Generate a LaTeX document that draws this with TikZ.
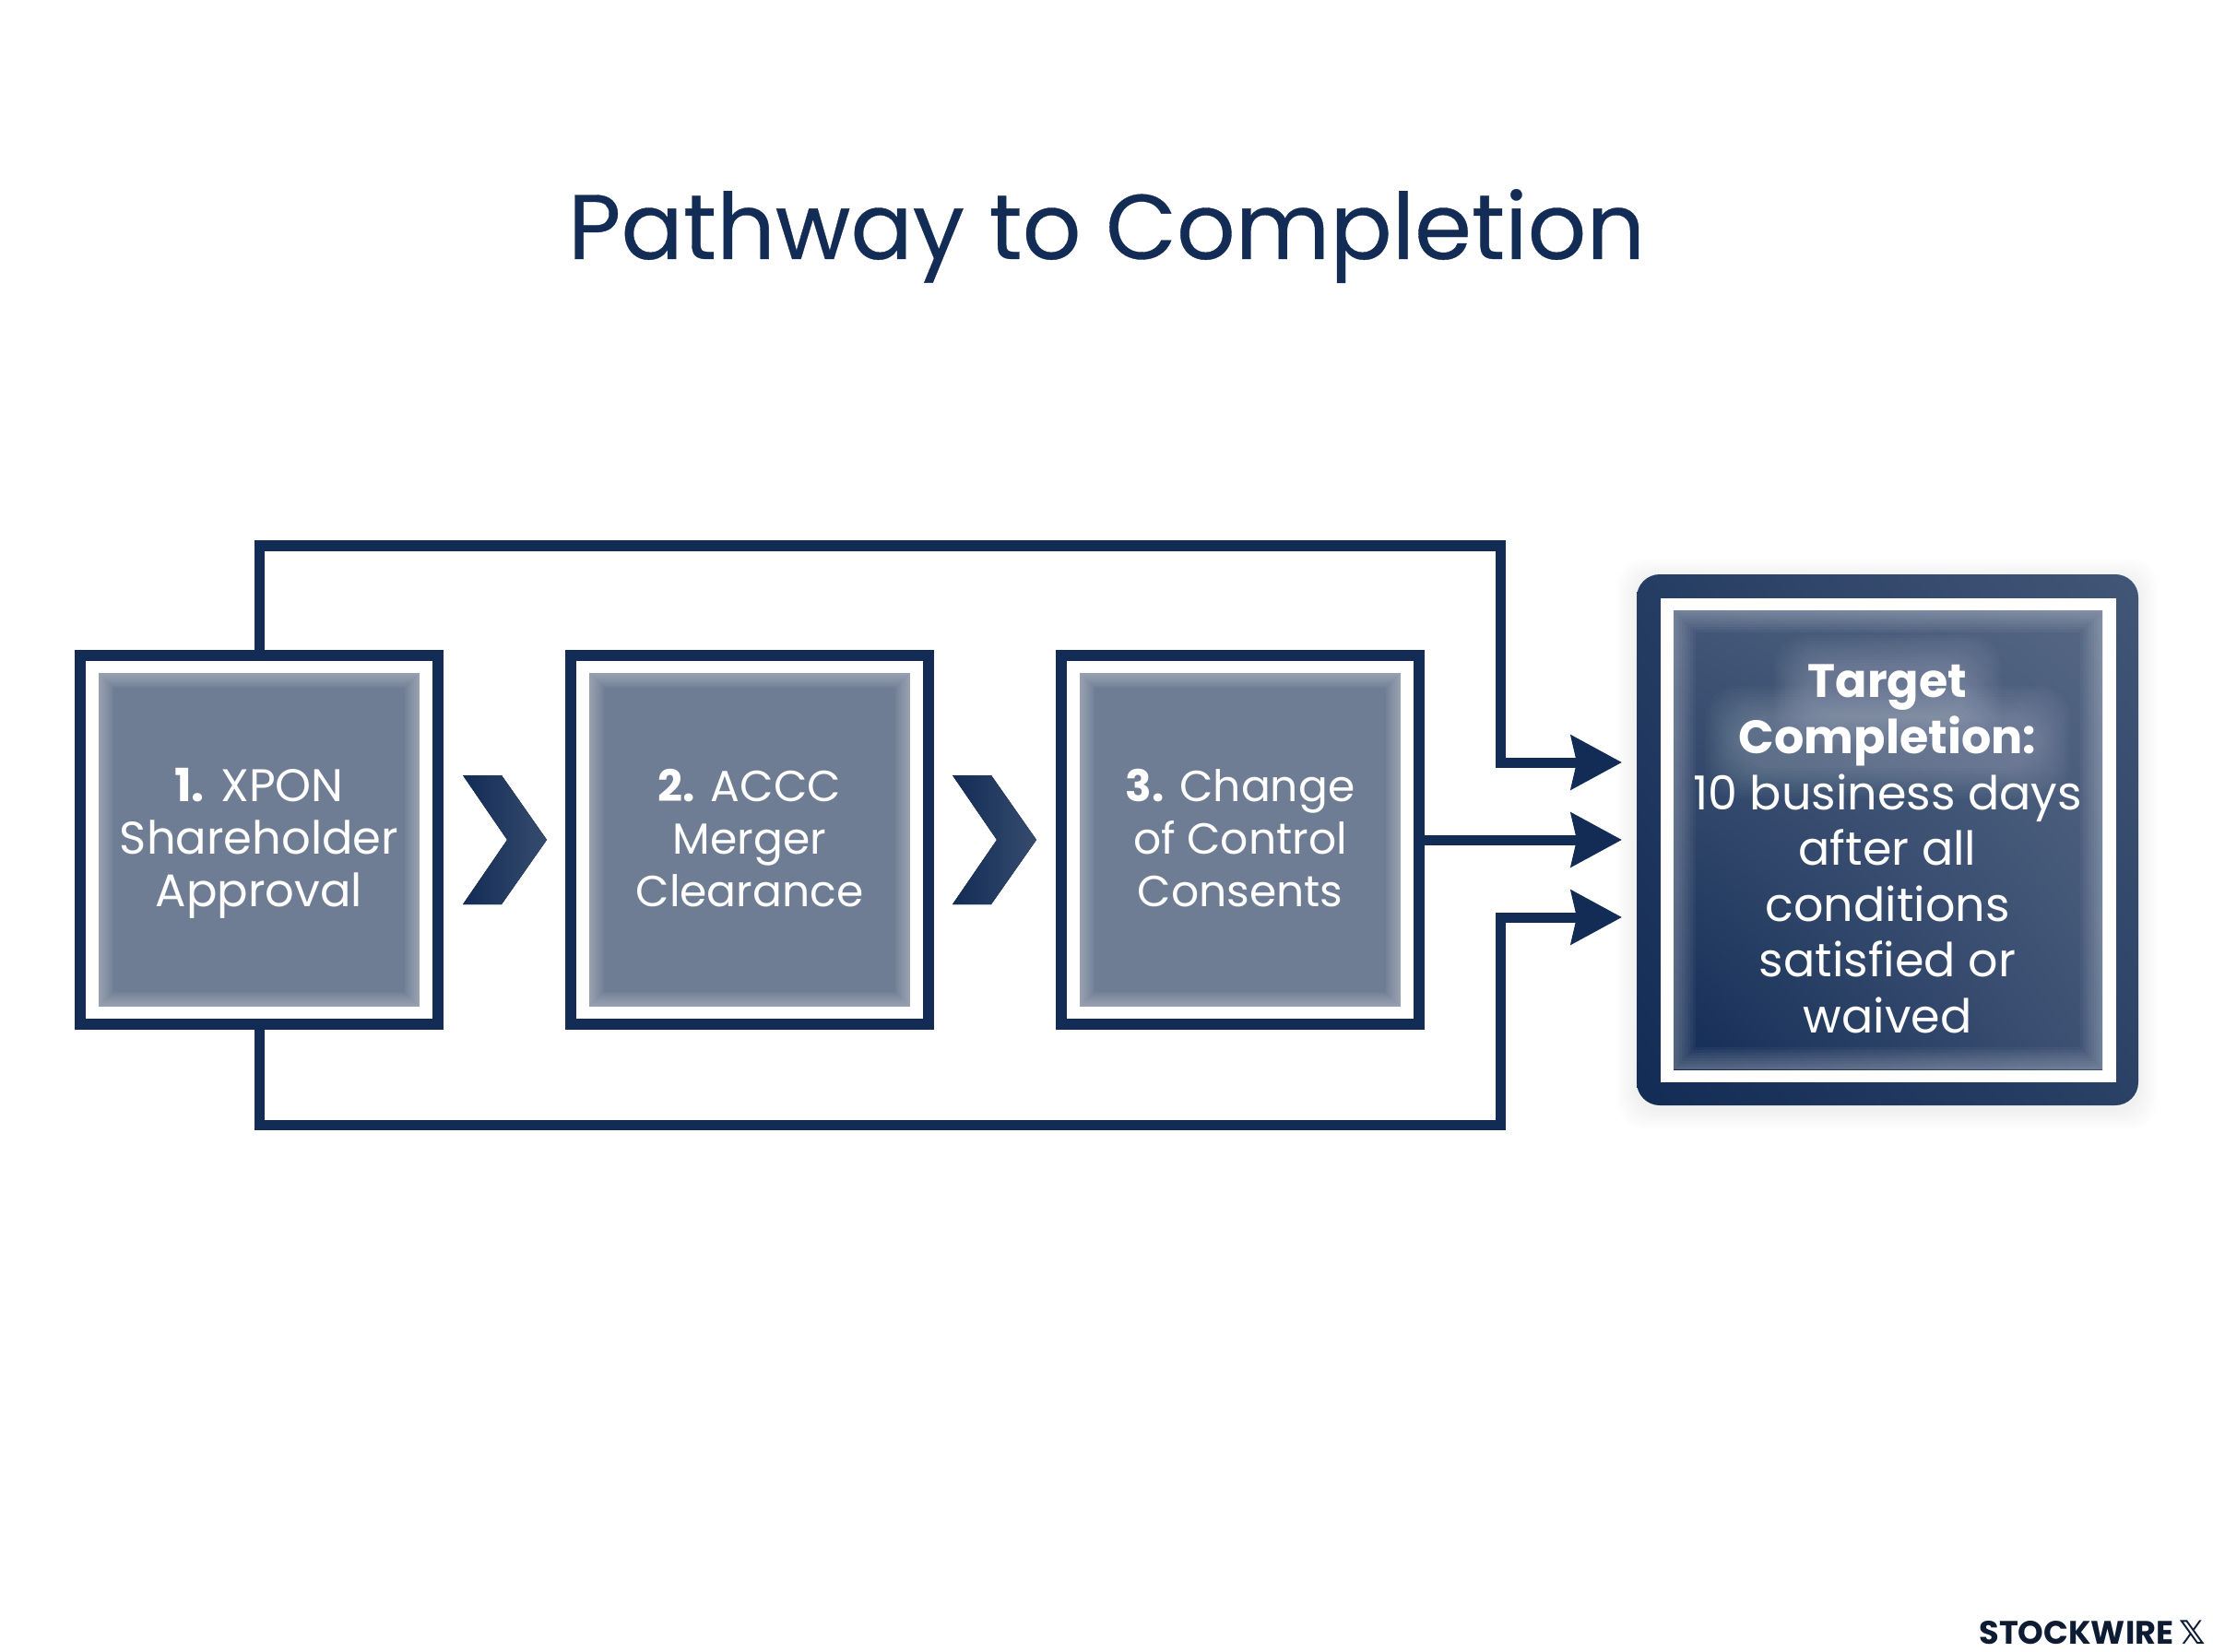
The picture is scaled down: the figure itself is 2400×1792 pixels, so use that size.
\documentclass[tikz,border=0pt]{standalone}
\usepackage{fontspec}
\setmainfont{Poppins}
\newfontfamily\titlefont[FakeBold=0.35]{Poppins}
\newfontfamily\markfont{DejaVu Sans}
\usetikzlibrary{arrows.meta,shadings}
\definecolor{navy}{HTML}{132C55}
\definecolor{softfill}{HTML}{6F7D94}
\definecolor{inkdark}{HTML}{0D1B33}
\tikzset{
  framebox/.style={draw=navy,line width=6pt,fill=white,minimum width=194pt,minimum height=200pt,inner sep=0pt},
  conn/.style={draw=navy,line width=5.5pt,-{Stealth[length=27.5pt,width=29pt,inset=3pt]}},
  lbl/.style={text=white,align=center,font=\fontsize{23.6}{28.5}\selectfont,inner sep=0pt},
  tlbl/.style={text=white,align=center,font=\fontsize{25.4}{30.3}\selectfont,inner sep=0pt},
  chev/.style={left color=navy,right color=navy!85!white},
}
\newcommand{\softring}[6]{%
  \foreach \i in {1,...,8}
    \fill[white,fill opacity=#6,even odd rule] (#1,#2) rectangle (#3,#4)
      ({#1+#5*\i},{#2+#5*\i}) rectangle ({#3-#5*\i},{#4-#5*\i});}
\begin{document}
\begin{tikzpicture}[x=0.5pt,y=-0.5pt]
\useasboundingbox (0,0) rectangle (2400,1792);
\node[text=navy,font=\fontsize{49.8}{60}\selectfont\titlefont,inner sep=0pt] (title) at (1200,256) {Pathway to Completion};

% shadow of target
\foreach \i in {1,...,7}
  \fill[black,fill opacity=.008,rounded corners=14pt] ({1775-3*\i},{623-3*\i+4}) rectangle ({2319+3*\i},{1199+3*\i+4});

% boxes
\node[framebox] (box1) at (281,911) {};
\node[framebox] (box2) at (813,911) {};
\node[framebox] (box3) at (1345,911) {};
\fill[softfill] (107,730) rectangle (455,1092);
\softring{107}{730}{455}{1092}{2}{.045}
\fill[softfill] (639,730) rectangle (987,1092);
\softring{639}{730}{987}{1092}{2}{.045}
\fill[softfill] (1171,730) rectangle (1519,1092);
\softring{1171}{730}{1519}{1092}{2}{.045}
\node[lbl,font=\fontsize{24.8}{28.5}\selectfont] (t1) at (281,915) {\textbf{1.} XPON\\Shareholder\\Approval};
\node[lbl] (t2) at (813,909) {\textbf{2.} ACCC\\Merger\\Clearance};
\node[lbl] (t3) at (1345,909) {\textbf{3.} Change\\of Control\\Consents};

% chevrons
\fill[chev] (502,841) -- (544,841) -- (593,911) -- (544,981) -- (502,981) -- (550,911) -- cycle;
\fill[chev] (1033,841) -- (1075,841) -- (1124,911) -- (1075,981) -- (1033,981) -- (1081,911) -- cycle;

% target
\node[shade,rounded corners=12.5pt,minimum width=272pt,minimum height=288pt,inner sep=0pt,outer sep=0pt,
  upper left=navy!92!white,upper right=navy!80!white,lower left=navy,lower right=navy!90!white] (target) at (2047,911) {};
\fill[white] (1801,649) rectangle (2295,1174);
\shade[upper left=navy!80!white,upper right=navy!72!white,lower left=navy,lower right=navy!82!white] (1815,662) rectangle (2280,1160);
\softring{1815}{662}{2280}{1160}{3}{.04}
\foreach \i in {1,...,12} {
  \fill[white,fill opacity=.018,rounded corners=18pt] ({1960-3*\i},{725-3*\i}) rectangle ({2134+3*\i},{775+3*\i});
  \fill[white,fill opacity=.018,rounded corners=18pt] ({1885-3*\i},{780-3*\i}) rectangle ({2209+3*\i},{830+3*\i});
}
\node[tlbl] (t4) at (2047,921) {\textbf{Target}\\\textbf{Completion:}\\10 business days\\after all\\conditions\\satisfied or\\waived};

% connectors
\coordinate (topL) at (281,592);
\coordinate (topR) at (1627,592);
\coordinate (botL) at (281,1220);
\coordinate (botR) at (1627,1220);
\coordinate (tipA) at (1759,827);
\coordinate (tipB) at (1759,911);
\coordinate (tipC) at (1759,995);
\draw[conn] (box1.north) -- (topL) -- (topR) |- (tipA);
\draw[conn] (box3.east) -- (tipB);
\draw[conn] (box1.south) -- (botL) -- (botR) |- (tipC);

\node[anchor=base east,text=inkdark,font=\fontsize{17.6}{22}\selectfont\bfseries,inner sep=0pt] (mark) at (2392,1783) {STOCKWIRE\,{\markfont 𝕏}};
\end{tikzpicture}
\end{document}
